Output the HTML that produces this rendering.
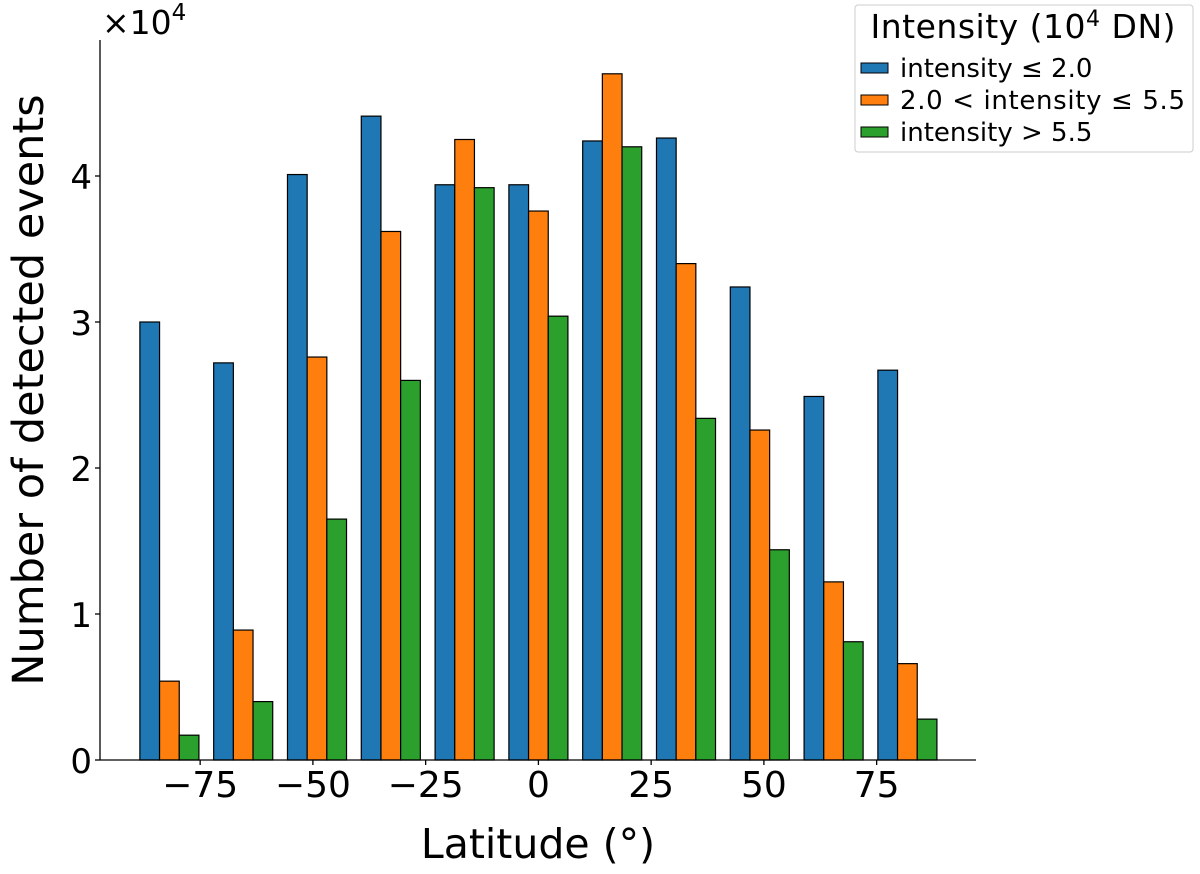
<!DOCTYPE html>
<html><head><meta charset="utf-8"><style>body{margin:0;background:#fff}svg{display:block}text{font-family:"DejaVu Sans","Liberation Sans",sans-serif}</style></head>
<body>
<svg id="chart" width="1200" height="874" viewBox="0 0 1200 874" xmlns="http://www.w3.org/2000/svg">
<g id="bars"></g>
<g id="axes"></g>
<text x="102" y="34" font-size="33">×10<tspan font-size="23" dy="-14">4</tspan></text>
<text x="538" y="858" font-size="41" text-anchor="middle">Latitude (°)</text>
<text transform="translate(43,390) rotate(-90)" font-size="43" text-anchor="middle">Number of detected events</text>
<g>
<rect x="855" y="5" width="338" height="147" rx="3" fill="#fff" stroke="#ccc" stroke-width="1"/>
<text x="1023" y="38" font-size="33" text-anchor="middle" textLength="305">Intensity (10<tspan font-size="22" dy="-12">4</tspan><tspan dy="12"> DN)</tspan></text>
<rect x="861" y="63" width="27" height="10" fill="#1f77b4" stroke="#000"/>
<text x="900" y="77" font-size="26">intensity ≤ 2.0</text>
<rect x="861" y="95" width="27" height="10" fill="#ff7f0e" stroke="#000"/>
<text x="900" y="109" font-size="26" textLength="285">2.0 &lt; intensity ≤ 5.5</text>
<rect x="861" y="127" width="27" height="10" fill="#2ca02c" stroke="#000"/>
<text x="900" y="141" font-size="26">intensity &gt; 5.5</text>
</g>
</svg>
<script>
const binCount = 11;
const latMin = -90, latMax = 90;
const lowValues = [3.0, 2.72, 4.01, 4.41, 3.94, 3.94, 4.24, 4.26, 3.24, 2.49, 2.67];
const midValues = [0.54, 0.89, 2.76, 3.62, 4.25, 3.76, 4.70, 3.40, 2.26, 1.22, 0.66];
const highValues = [0.17, 0.40, 1.65, 2.60, 3.92, 3.04, 4.20, 2.34, 1.44, 0.81, 0.28];
const xTicks = [-75, -50, -25, 0, 25, 50, 75];
const yTicks = [0, 1, 2, 3, 4];
const NS = "http://www.w3.org/2000/svg";
const x = d => 538.4 + d * 4.51;
const y = v => 760 - v * 146;
const bars = document.getElementById('bars'), axes = document.getElementById('axes');
function mk(tag, attrs, parent){const e=document.createElementNS(NS,tag);for(const k in attrs)e.setAttribute(k,attrs[k]);parent.appendChild(e);return e;}
const series = [[lowValues,'#1f77b4','low'],[midValues,'#ff7f0e','mid'],[highValues,'#2ca02c','high']];
const bw = (latMax - latMin) / binCount;
for (let i = 0; i < binCount; i++) {
  const b0 = latMin + i * bw;
  const start = x(b0) + (x(b0 + bw) - x(b0)) * 0.1;
  const w = (x(b0 + bw) - x(b0)) * 0.8 / 3;
  series.forEach((s, j) => {
    const r = mk('rect', {x: start + j * w, y: y(s[0][i]), width: w, height: y(0) - y(s[0][i]), fill: s[1], stroke: '#000', 'stroke-width': 1.2}, bars);
    
    
  });
}
mk('line', {x1: 100, y1: 40, x2: 100, y2: 760, stroke: '#000', 'stroke-width': 1.3}, axes);
mk('line', {x1: 100, y1: 760, x2: 976, y2: 760, stroke: '#000', 'stroke-width': 1.3}, axes);
xTicks.forEach(t => {
  mk('line', {x1: x(t), y1: 760, x2: x(t), y2: 765, stroke: '#000', 'stroke-width': 1.3}, axes);
  const tx = mk('text', {x: x(t), y: 797, 'font-size': 36, 'text-anchor': 'middle', 'font-family': '"Liberation Sans", sans-serif'}, axes);
  tx.textContent = t < 0 ? '\u2212' + Math.abs(t) : String(t);
  
  
});
yTicks.forEach(t => {
  mk('line', {x1: 95, y1: y(t), x2: 100, y2: y(t), stroke: '#000', 'stroke-width': 1.3}, axes);
  const tx = mk('text', {x: 92, y: y(t) + 13, 'font-size': 34, 'text-anchor': 'end', 'font-family': '"Liberation Sans", sans-serif'}, axes);
  tx.textContent = String(t);
  
  
});
</script>
</body></html>
